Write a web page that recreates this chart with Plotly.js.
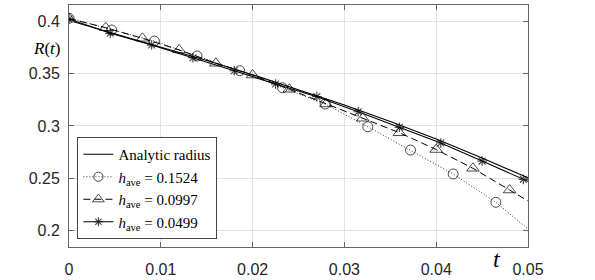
<!DOCTYPE html>
<html>
<head>
<meta charset="utf-8">
<script src="https://cdn.plot.ly/plotly-3.0.1.min.js"></script>
<style>html,body{margin:0;padding:0;background:#fff;}#chart{width:595px;height:280px;}</style>
</head>
<body>
<div id="chart"></div>
<script>
// ---- data ----
var tAnalytic = [0, 0.005, 0.01, 0.015, 0.02, 0.025, 0.03, 0.035, 0.04, 0.045, 0.05];
var rAnalytic = [0.4005, 0.3880, 0.3754, 0.3624, 0.3488, 0.3347, 0.3199, 0.3042, 0.2875, 0.2695, 0.2505];

var tH1 = [0, 0.00465, 0.0093, 0.01395, 0.0186, 0.02325, 0.0279, 0.03255, 0.0372, 0.04185, 0.0465, 0.05];
var rH1 = [0.4026, 0.3914, 0.3809, 0.3666, 0.3526, 0.3364, 0.3209, 0.2992, 0.2770, 0.2542, 0.2272, 0.2017];

var tH2 = [0, 0.004, 0.008, 0.012, 0.016, 0.02, 0.024, 0.028, 0.032, 0.036, 0.04, 0.044, 0.048, 0.05];
var rH2 = [0.4024, 0.3936, 0.3835, 0.3724, 0.3597, 0.3485, 0.3349, 0.3209, 0.3073, 0.2935, 0.2775, 0.2596, 0.2389, 0.2285];

var tH3 = [0, 0.0045, 0.009, 0.0135, 0.018, 0.0225, 0.027, 0.0315, 0.036, 0.0405, 0.045, 0.0495, 0.05];
var rH3 = [0.4019, 0.3883, 0.3771, 0.3650, 0.3526, 0.3400, 0.3279, 0.3135, 0.2987, 0.2837, 0.2665, 0.2491, 0.2472];

var seriesNames = ['Analytic radius',
  '<i>h</i><sub>ave</sub> = 0.1524',
  '<i>h</i><sub>ave</sub> = 0.0997',
  '<i>h</i><sub>ave</sub> = 0.0499'];

var xTickVals = [0, 0.01, 0.02, 0.03, 0.04, 0.05];
var xTickText = ['0', '0.01', '0.02', '0.03', '0.04', '0.05'];
var yTickVals = [0.2, 0.25, 0.3, 0.35, 0.4];
var yTickText = ['0.2', '0.25', '0.3', '0.35', '0.4'];

// markers on every stored point except the final end point
function markerSizes(t, s) { return t.map(function (_, i) { return i < t.length - 1 ? s : 0; }); }

var traces = [
  {x: tAnalytic, y: rAnalytic, name: seriesNames[0], mode: 'lines',
   line: {color: '#000', width: 1.1}},
  {x: tH1, y: rH1, name: seriesNames[1], mode: 'lines+markers',
   line: {color: '#222', width: 0.9, dash: '1px,2px'},
   marker: {symbol: 'circle-open', size: markerSizes(tH1, 10), color: '#000', line: {width: 1, color: '#000'}}},
  {x: tH2, y: rH2, name: seriesNames[2], mode: 'lines+markers',
   line: {color: '#000', width: 1, dash: '7px,4px'},
   marker: {symbol: 'triangle-up-open', size: markerSizes(tH2, 11), color: '#000', line: {width: 1, color: '#000'}}},
  {x: tH3, y: rH3, name: seriesNames[3], mode: 'lines+markers',
   line: {color: '#000', width: 1.1},
   marker: {symbol: 'asterisk-open', size: markerSizes(tH3, 8), color: '#000', line: {width: 1.2, color: '#000'}}}
];

var axisCommon = {
  showgrid: true, gridcolor: '#e2e2e2', gridwidth: 1, zeroline: false,
  showline: true, linecolor: '#666', linewidth: 1, mirror: 'ticks',
  ticks: 'inside', ticklen: 5, tickcolor: '#666', tickwidth: 1,
  tickfont: {family: 'Liberation Sans, Arial, sans-serif', size: 16, color: '#262626'}
};

var layout = {
  width: 595, height: 280,
  margin: {l: 69, r: 67, t: 5, b: 33, pad: 0},
  paper_bgcolor: '#fff', plot_bgcolor: '#fff',
  showlegend: true,
  xaxis: Object.assign({}, axisCommon, {range: [0, 0.05], tickmode: 'array',
    tickvals: xTickVals, ticktext: xTickText, ticklabelstandoff: 8}),
  yaxis: Object.assign({}, axisCommon, {range: [0.1846, 0.41525], tickmode: 'array',
    tickvals: yTickVals, ticktext: yTickText, ticklabelstandoff: 5}),
  legend: {x: 0.0183, y: 0.033, xanchor: 'left', yanchor: 'bottom',
    bgcolor: '#fff', bordercolor: '#444', borderwidth: 1,
    font: {family: 'Liberation Serif, Times New Roman, serif', size: 15, color: '#000'},
    tracegroupgap: 0},
  annotations: [
    {xref: 'paper', yref: 'paper', x: -0.016, y: 0.822, xanchor: 'right', yanchor: 'middle',
     text: '<i>R</i>(<i>t</i>)', showarrow: false,
     font: {family: 'Liberation Serif, Times New Roman, serif', size: 17, color: '#000'}},
    {xref: 'paper', yref: 'paper', x: 0.933, y: -0.05, xanchor: 'center', yanchor: 'middle',
     text: '<i>t</i>', showarrow: false,
     font: {family: 'Liberation Serif, Times New Roman, serif', size: 24, color: '#000'}}
  ]
};

Plotly.newPlot('chart', traces, layout, {displayModeBar: false, staticPlot: true});
</script>
</body>
</html>
